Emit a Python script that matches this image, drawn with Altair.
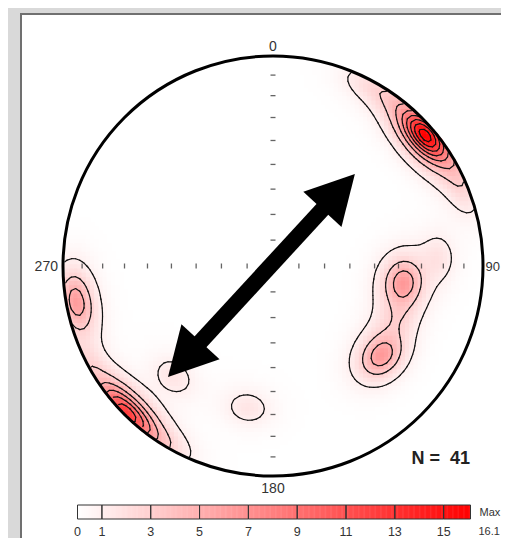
import numpy as np
import pandas as pd
import altair as alt

# ---------------- data ----------------
# poles (lower hemisphere, equal-area): trend / plunge in degrees
trend = [47, 48, 49, 50, 51, 49, 48, 50, 49, 52,
         28, 37, 60, 68,
         225, 223, 227, 221, 229, 224, 226, 219, 232, 211, 243,
         260, 259, 262, 258,
         97, 95, 99, 98,
         87,
         113,
         130, 128, 131, 129,
         222, 190]
plunge = [5, 4, 5, 4, 5, 6, 6, 6, 4, 5,
          3, 3, 2, 3,
          1, 2, 1, 2, 2, 2, 2, 1, 1, 1, 1,
          5, 4, 6, 7,
          37, 38, 36, 39,
          22,
          36,
          33, 32, 34, 35,
          30, 32]

contour_levels = [1, 3, 5, 7, 9, 11, 13, 15]
max_density = 16.1
bar_stops = [0, 1, 3, 5, 7, 9, 11, 13, 15, 16.1]
bar_labels = ["0", "1", "3", "5", "7", "9", "11", "13", "15"]
net_dips = [10, 20, 30, 40, 50, 60, 70, 80]
cardinals = ["0", "90", "180", "270"]
arrow_tip_a = (0.39, 0.438)
arrow_tip_b = (-0.50, -0.529)

# ---------------- layout constants ----------------
W, H = 493, 530
CX, CY, RPX = 265.0, 258.0, 210.0
XDOM = [-CX / RPX, (W - CX) / RPX]
YDOM = [-(H - CY) / RPX, CY / RPX]
K_CORE, K_HALO, W_CORE = 150.0, 50.0, 0.6

def X(f):
    return alt.X(f, type="quantitative", scale=alt.Scale(domain=XDOM, nice=False, zero=False), axis=None)

def Y(f):
    return alt.Y(f, type="quantitative", scale=alt.Scale(domain=YDOM, nice=False, zero=False), axis=None)

# ---------------- density on a grid ----------------
t = np.radians(trend)
p = np.radians(plunge)
P = np.stack([np.cos(p) * np.sin(t), np.cos(p) * np.cos(t), -np.sin(p)], axis=1)

def vec(x, y):
    r = np.hypot(x, y)
    th_ = 2 * np.arcsin(np.clip(r / np.sqrt(2), 0, 1))
    a_ = np.arctan2(x, y)
    return np.stack([np.sin(th_) * np.sin(a_), np.sin(th_) * np.cos(a_), -np.cos(th_)], axis=-1)

def kern(c):
    return (W_CORE * np.exp(K_CORE * (c - 1)) + (1 - W_CORE) * np.exp(K_HALO * (c - 1))).sum(-1)

h = 0.02
g = np.round(np.arange(-1.04, 1.04 + 1e-9, h), 6)
GX, GY = np.meshgrid(g, g)
RR = np.hypot(GX, GY)
D = kern(vec(GX, GY) @ P.T)
D = D * max_density / D[RR <= 1].max()

mask = (RR <= 1.0) & (D > 0.03)
eps = 0.0015
cells = pd.DataFrame({
    "x": (GX[mask] - h / 2 - eps), "x2": (GX[mask] + h / 2 + eps),
    "y": (GY[mask] - h / 2 - eps), "y2": (GY[mask] + h / 2 + eps),
    "v": np.round(D[mask], 3),
})

# ---------------- contour lines (marching squares) ----------------
def march(lev):
    segs = []
    ab = D >= lev
    mixed = (ab[:-1, :-1] != ab[:-1, 1:]) | (ab[:-1, :-1] != ab[1:, 1:]) | (ab[:-1, :-1] != ab[1:, :-1])
    for j, i in np.argwhere(mixed):
        cs = [(g[i], g[j], D[j, i]), (g[i + 1], g[j], D[j, i + 1]),
              (g[i + 1], g[j + 1], D[j + 1, i + 1]), (g[i], g[j + 1], D[j + 1, i])]
        pts = []
        for k in range(4):
            a, b = cs[k], cs[(k + 1) % 4]
            if (a[2] >= lev) != (b[2] >= lev):
                tt = (lev - a[2]) / (b[2] - a[2])
                pts.append((a[0] + tt * (b[0] - a[0]), a[1] + tt * (b[1] - a[1])))
            else:
                pts.append(None)
        got = [q for q in pts if q is not None]
        if len(got) == 2:
            segs.append((got[0], got[1]))
        elif len(got) == 4:
            center = np.mean([c[2] for c in cs]) >= lev
            if center == (cs[0][2] >= lev):
                segs += [(pts[0], pts[1]), (pts[2], pts[3])]
            else:
                segs += [(pts[3], pts[0]), (pts[1], pts[2])]
    return segs

rows = []
for lev in contour_levels:
    for a, b in march(lev):
        if np.hypot(*a) <= 1.0 and np.hypot(*b) <= 1.0:
            rows.append({"x": a[0], "y": a[1], "x2": b[0], "y2": b[1], "lev": lev})
segs = pd.DataFrame(rows)

color_scale = alt.Scale(domain=[0, max_density], range=["#ffffff", "#ff0000"], interpolate="rgb")
one = pd.DataFrame({"x": [0.0], "y": [0.0]})

# ---------------- layers ----------------
panel = alt.Chart(one).mark_rect(fill="white", stroke="#707070", strokeWidth=2).encode(
    x=alt.value(13), x2=alt.value(W + 20), y=alt.value(6), y2=alt.value(H + 20))
dens = alt.Chart(cells).mark_rect(strokeWidth=0).encode(
    x=X("x"), x2="x2", y=Y("y"), y2="y2",
    color=alt.Color("v:Q", scale=color_scale, legend=None))
lines = alt.Chart(segs).mark_rule(color="#111111", strokeWidth=1.2, strokeCap="round").encode(
    x=X("x"), x2="x2", y=Y("y"), y2="y2")
ring_mask = alt.Chart(one).mark_point(shape="circle", filled=False, stroke="white",
                                      strokeWidth=9, opacity=1).encode(
    x=X("x"), y=Y("y"), size=alt.value((2 * (RPX + 6)) ** 2))
circle = alt.Chart(one).mark_point(shape="circle", filled=False, stroke="black",
                                   strokeWidth=3, opacity=1).encode(
    x=X("x"), y=Y("y"), size=alt.value((2 * RPX) ** 2))

rad = [float(np.sqrt(2) * np.sin(np.radians(d) / 2)) for d in net_dips]
ns = pd.DataFrame({"x": 0.0, "y": rad + [-r for r in rad]})
ew = pd.DataFrame({"x": rad + [-r for r in rad], "y": 0.0})
ticks_ns = alt.Chart(ns).mark_tick(orient="horizontal", size=5, thickness=1.3, color="#222222").encode(
    x=X("x"), y=Y("y"))
ticks_ew = alt.Chart(ew).mark_tick(orient="vertical", size=5, thickness=1.3, color="#222222").encode(
    x=X("x"), y=Y("y"))

lab_font = dict(font="Liberation Sans", fontSize=14, color="#333333", baseline="middle")
lab_c = alt.Chart(pd.DataFrame({"t": [cardinals[0], cardinals[2]], "x": [0.0, 0.0], "y": [1.043, -1.062]})).mark_text(
    align="center", **lab_font).encode(x=X("x"), y=Y("y"), text="t")
lab_w = alt.Chart(pd.DataFrame({"t": [cardinals[3]], "x": [-1.024], "y": [-0.006]})).mark_text(
    align="right", **lab_font).encode(x=X("x"), y=Y("y"), text="t")
lab_e = alt.Chart(pd.DataFrame({"t": [cardinals[1]], "x": [1.012], "y": [-0.006]})).mark_text(
    align="left", **dict(lab_font, fontSize=13)).encode(x=X("x"), y=Y("y"), text="t")

ax, ay = arrow_tip_a
bx, by = arrow_tip_b
L = np.hypot(ax - bx, ay - by)
ux, uy = (ax - bx) / L, (ay - by) / L
ang = float(np.degrees(np.arctan2(ux, uy)))
back = 30 / RPX
shaft = alt.Chart(pd.DataFrame({"x": [ax - ux * back], "y": [ay - uy * back],
                                "x2": [bx + ux * back], "y2": [by + uy * back]})).mark_rule(
    color="black", strokeWidth=16, strokeCap="butt").encode(x=X("x"), x2="x2", y=Y("y"), y2="y2")
heads = alt.Chart(pd.DataFrame({"x": [ax, bx], "y": [ay, by], "a": [ang, (ang + 180) % 360]})).mark_point(
    shape="M0,0 L1.08,2 L-1.08,2 Z", filled=True, color="black", opacity=1, strokeWidth=0).encode(
    x=X("x"), y=Y("y"), angle=alt.Angle("a:Q", scale=None), size=alt.value(48 ** 2))

ntext = alt.Chart(pd.DataFrame({"t": [f"N = \u00a0{len(trend)}"], "x": [0.66], "y": [-0.919]})).mark_text(
    align="left", baseline="middle", font="Liberation Sans", fontSize=18, fontWeight="bold", color="#222222").encode(
    x=X("x"), y=Y("y"), text="t")

main = alt.layer(panel, dens, lines, ring_mask, circle, ticks_ns, ticks_ew, lab_c, lab_w, lab_e,
                 shaft, heads, ntext)

# ---------------- colour bar ----------------
BX = alt.Scale(domain=[0, max_density], range=[69.5, 462.5], nice=False, zero=False)
step = 0.05
gv = np.round(np.arange(0, max_density, step), 3)
grad = pd.DataFrame({"a": gv, "b": np.minimum(gv + step + 0.02, max_density), "v": gv + step / 2})
cb_fill = alt.Chart(grad).mark_rect(strokeWidth=0).encode(
    x=alt.X("a:Q", scale=BX, axis=None), x2="b", y=alt.value(497), y2=alt.value(511),
    color=alt.Color("v:Q", scale=color_scale, legend=None))
cb_cells = alt.Chart(pd.DataFrame({"a": bar_stops[:-1], "b": bar_stops[1:]})).mark_rect(
    fill=None, stroke="#333333", strokeWidth=1).encode(
    x=alt.X("a:Q", scale=BX, axis=None), x2="b", y=alt.value(497), y2=alt.value(511))
cb_lab = alt.Chart(pd.DataFrame({"a": bar_stops[:-1], "t": bar_labels})).mark_text(
    font="Liberation Sans", fontSize=12.5, color="#333333", baseline="middle").encode(
    x=alt.X("a:Q", scale=BX, axis=None), y=alt.value(523.5), text="t")
cb_max = alt.Chart(pd.DataFrame({"a": [max_density], "t": ["Max"]})).mark_text(
    font="Liberation Sans", fontSize=11, color="#333333", baseline="middle", align="left", dx=9).encode(
    x=alt.X("a:Q", scale=BX, axis=None), y=alt.value(504.5), text="t")
cb_maxv = alt.Chart(pd.DataFrame({"a": [max_density], "t": [str(max_density)]})).mark_text(
    font="Liberation Sans", fontSize=11, color="#333333", baseline="middle", align="left", dx=8).encode(
    x=alt.X("a:Q", scale=BX, axis=None), y=alt.value(523.5), text="t")
cbar = alt.layer(cb_fill, cb_cells, cb_lab, cb_max, cb_maxv)

chart = alt.layer(main, cbar).resolve_scale(x="independent", y="independent").properties(
    width=W, height=H, padding=0, autosize=alt.AutoSizeParams(type="none"), background="#d9d9d9"
).configure_view(stroke=None)

chart.save("out.html", embed_options={"renderer": "svg", "actions": False})
